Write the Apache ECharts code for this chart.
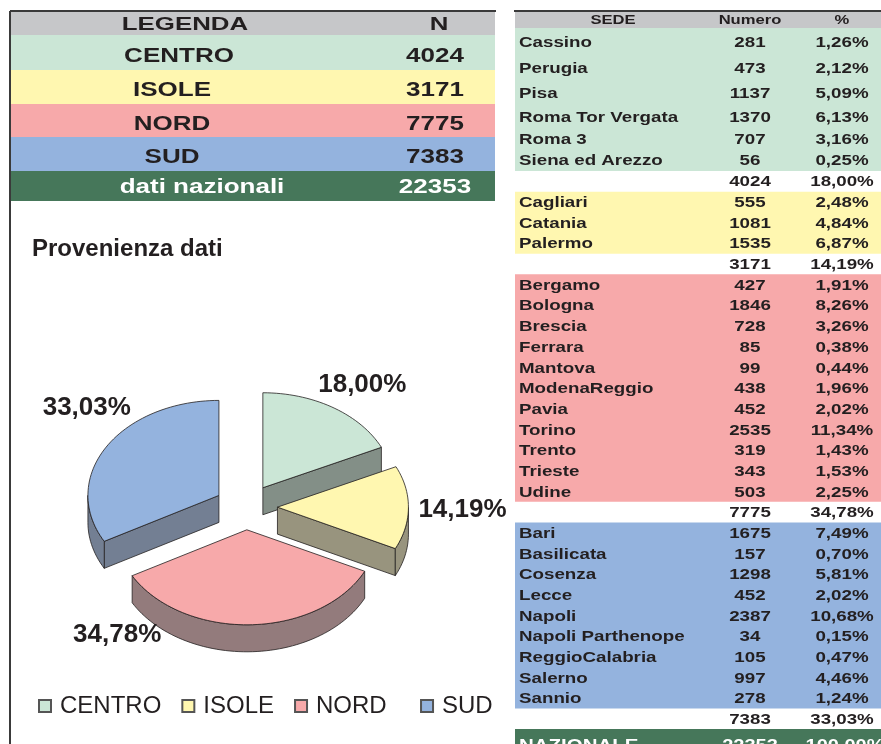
<!DOCTYPE html>
<html>
<head>
<meta charset="utf-8">
<title>Provenienza dati</title>
<script src="https://cdn.jsdelivr.net/npm/echarts@6/dist/echarts.min.js"></script>
<style>
  html, body { margin: 0; padding: 0; background: #fff; }
  #main { width: 881px; height: 744px; }
</style>
</head>
<body>
<div id="main"></div>
<script>
// dati
const regioni = ['CENTRO', 'ISOLE', 'NORD', 'SUD'];
const totaliRegione = [4024, 3171, 7775, 7383];
const totaleNazionale = 22353;

const sediCentro = ['Cassino', 'Perugia', 'Pisa', 'Roma Tor Vergata', 'Roma 3', 'Siena ed Arezzo'];
const numCentro = [281, 473, 1137, 1370, 707, 56];
const sediIsole = ['Cagliari', 'Catania', 'Palermo'];
const numIsole = [555, 1081, 1535];
const sediNord = ['Bergamo', 'Bologna', 'Brescia', 'Ferrara', 'Mantova', 'ModenaReggio', 'Pavia', 'Torino', 'Trento', 'Trieste', 'Udine'];
const numNord = [427, 1846, 728, 85, 99, 438, 452, 2535, 319, 343, 503];
const sediSud = ['Bari', 'Basilicata', 'Cosenza', 'Lecce', 'Napoli', 'Napoli Parthenope', 'ReggioCalabria', 'Salerno', 'Sannio'];
const numSud = [1675, 157, 1298, 452, 2387, 34, 105, 997, 278];

const sediPerRegione = [sediCentro, sediIsole, sediNord, sediSud];
const numPerRegione = [numCentro, numIsole, numNord, numSud];

// stile
const FONT = '"Liberation Sans", Arial, Helvetica, sans-serif';
const INK = '#231f20';
const coloriTop = ['#cbe6d6', '#fff7b0', '#f7a9aa', '#94b3de'];
const coloriLato = ['#838f87', '#98947e', '#937b7c', '#737f93'];
const GRIGIO = '#c6c7c9';
const VERDE = '#46775a';

function pct(v) {
  return (v / totaleNazionale * 100).toFixed(2).replace('.', ',') + '%';
}

function testo(x, y, s, size, opt) {
  opt = opt || {};
  const align = opt.align || 'center';
  return {
    type: 'text', x: x, y: y, scaleX: opt.sx || 1, silent: true,
    style: {
      text: s, fill: opt.color || INK,
      font: (opt.weight || 'bold') + ' ' + size + 'px ' + FONT,
      textAlign: align, textVerticalAlign: 'middle',
      align: align, verticalAlign: 'middle'
    }
  };
}
function rett(x, y, w, h, color) {
  return { type: 'rect', silent: true, shape: { x: x, y: y, width: w, height: h }, style: { fill: color } };
}
function linea(x1, y1, x2, y2) {
  return { type: 'line', silent: true, shape: { x1: x1, y1: y1, x2: x2, y2: y2 }, style: { stroke: '#3a3a3a', lineWidth: 2 } };
}

const grafica = [];

// cornice
grafica.push(linea(10, 11, 10, 744));
grafica.push(linea(10, 11, 496, 11));
grafica.push(linea(514, 11, 881, 11));

// tabella legenda (sinistra)
const L_X = 11, L_W = 484, L_COL1 = 182, L_COL2 = 435;
grafica.push(rett(L_X, 12, L_W, 23, GRIGIO));
grafica.push(testo(L_COL1 + 3, 24.5, 'LEGENDA', 19, { sx: 1.36 }));
grafica.push(testo(L_COL2 + 4, 24.5, 'N', 19, { sx: 1.36 }));
const L_RIGHE = [35, 70, 104, 137, 171];
regioni.forEach(function (r, i) {
  const y0 = L_RIGHE[i], h = L_RIGHE[i + 1] - y0;
  grafica.push(rett(L_X, y0, L_W, h, coloriTop[i]));
  grafica.push(testo(L_COL1 - 10 + (i === 0 ? 7 : 0), y0 + h / 2 + 3.5, r, 20, { sx: 1.3 }));
  grafica.push(testo(L_COL2, y0 + h / 2 + 3.5, String(totaliRegione[i]), 20, { sx: 1.3 }));
});
grafica.push(rett(L_X, 171, L_W, 30, VERDE));
grafica.push(testo(L_COL1 + 20, 187.5, 'dati nazionali', 20, { sx: 1.3, color: '#fff' }));
grafica.push(testo(L_COL2, 187.5, String(totaleNazionale), 20, { sx: 1.3, color: '#fff' }));

// titolo
grafica.push(testo(32, 249, 'Provenienza dati', 24, { align: 'left' }));

// tabella sedi (destra)
const R_X = 515, R_W = 366, R_NOME = 519, R_NUM = 750, R_PCT = 842, R_SX = 1.25;
grafica.push(rett(R_X, 12, R_W, 16, GRIGIO));
grafica.push(testo(613, 20.5, 'SEDE', 13.5, { sx: 1.23 }));
grafica.push(testo(R_NUM, 20.5, 'Numero', 13.5, { sx: 1.23 }));
grafica.push(testo(R_PCT, 20.5, '%', 13.5, { sx: 1.23 }));

const RIGA = 20.67;
const altezzePrimoBlocco = [27.5, 25.5, 24.5, 23, 21, 21.5];
let y = 28;
sediPerRegione.forEach(function (sedi, r) {
  const nums = numPerRegione[r];
  const altezze = sedi.map(function (_, k) { return r === 0 ? altezzePrimoBlocco[k] : RIGA; });
  const hBlocco = altezze.reduce(function (s, h) { return s + h; }, 0);
  grafica.push(rett(R_X, y, R_W, hBlocco, coloriTop[r]));
  sedi.forEach(function (nome, k) {
    const yc = y + altezze[k] / 2 + 1;
    grafica.push(testo(R_NOME, yc, nome, 15, { align: 'left', sx: R_SX }));
    grafica.push(testo(R_NUM, yc, String(nums[k]), 15, { sx: R_SX }));
    grafica.push(testo(R_PCT, yc, pct(nums[k]), 15, { sx: R_SX }));
    y += altezze[k];
  });
  const yc = y + RIGA / 2 + 1;
  grafica.push(testo(R_NUM, yc, String(totaliRegione[r]), 15, { sx: R_SX }));
  grafica.push(testo(R_PCT, yc, pct(totaliRegione[r]), 15, { sx: R_SX }));
  y += RIGA;
});
grafica.push(rett(R_X, y, R_W, 744 - y, VERDE));
grafica.push(testo(R_NOME, y + 18, 'NAZIONALE', 16, { align: 'left', sx: 1.28, color: '#fff' }));
grafica.push(testo(R_NUM, y + 18, String(totaleNazionale), 16, { sx: 1.25, color: '#fff' }));
grafica.push(testo(R_PCT + 3, y + 18, pct(totaleNazionale), 16, { sx: 1.25, color: '#fff' }));

// torta 3D esplosa
const PIE = { cx: 246, cy: 507, a: 131, b: 95, depth: 27, esplosione: 0.24 };
const spostaEtichetta = [[11, -2], [20, 2], [-134, -15], [10, -27]];
const somma = totaliRegione.reduce(function (s, v) { return s + v; }, 0);
const angoli = [];
let acc = 0;
totaliRegione.forEach(function (v) {
  const s = acc / somma * 360;
  acc += v;
  angoli.push([s, acc / somma * 360]);
});

const RAD = Math.PI / 180;
function punto(ox, oy, deg, dz) {
  return [ox + PIE.a * Math.sin(deg * RAD), oy - PIE.b * Math.cos(deg * RAD) + (dz || 0)];
}
function arco(ox, oy, d1, d2, dz) {
  const pts = [];
  const n = Math.max(2, Math.ceil((d2 - d1) / 2));
  for (let j = 0; j <= n; j++) pts.push(punto(ox, oy, d1 + (d2 - d1) * j / n, dz));
  return pts;
}

function disegnaFetta(i) {
  return function () {
    const s = angoli[i][0], e = angoli[i][1], m = (s + e) / 2;
    const ox = PIE.cx + PIE.esplosione * PIE.a * Math.sin(m * RAD);
    const oy = PIE.cy - PIE.esplosione * PIE.b * Math.cos(m * RAD);
    const D = PIE.depth;
    const bordo = { stroke: INK, lineWidth: 0.8 };
    const figli = [];
    const lato = function (pts) {
      figli.push({ type: 'polygon', shape: { points: pts }, style: Object.assign({ fill: coloriLato[i] }, bordo) });
    };
    // pareti radiali visibili
    if (Math.cos((s - 90) * RAD) < -0.01) {
      const p = punto(ox, oy, s);
      lato([[ox, oy], p, [p[0], p[1] + D], [ox, oy + D]]);
    }
    if (Math.cos((e + 90) * RAD) < -0.01) {
      const p = punto(ox, oy, e);
      lato([[ox, oy], p, [p[0], p[1] + D], [ox, oy + D]]);
    }
    // parete curva anteriore
    const c1 = Math.max(s, 90), c2 = Math.min(e, 270);
    if (c2 > c1) {
      lato(arco(ox, oy, c1, c2, 0).concat(arco(ox, oy, c1, c2, D).reverse()));
    }
    // faccia superiore
    figli.push({
      type: 'polygon', shape: { points: [[ox, oy]].concat(arco(ox, oy, s, e, 0)) },
      style: Object.assign({ fill: coloriTop[i] }, bordo)
    });
    // etichetta
    figli.push({
      type: 'text',
      x: PIE.cx + 1.5 * PIE.a * Math.sin(m * RAD) + spostaEtichetta[i][0],
      y: PIE.cy - 1.5 * PIE.b * Math.cos(m * RAD) + spostaEtichetta[i][1],
      style: {
        text: pct(totaliRegione[i]), fill: INK, font: 'bold 26px ' + FONT,
        textAlign: 'center', textVerticalAlign: 'middle', align: 'center', verticalAlign: 'middle'
      }
    });
    return { type: 'group', children: figli };
  };
}

const serie = regioni.map(function (r, i) {
  const m = (angoli[i][0] + angoli[i][1]) / 2;
  return {
    name: r,
    type: 'custom',
    coordinateSystem: 'none',
    z: 3 + Math.round(-Math.cos(m * RAD) * 2 + 2),
    silent: true,
    itemStyle: { color: coloriTop[i], borderColor: '#555', borderWidth: 1 },
    renderItem: disegnaFetta(i),
    data: [totaliRegione[i]]
  };
});

const chart = echarts.init(document.getElementById('main'), null, { renderer: 'canvas' });
chart.setOption({
  backgroundColor: '#fff',
  animation: false,
  legend: {
    data: regioni,
    left: 38,
    top: 694,
    padding: 0,
    icon: 'rect',
    itemWidth: 12,
    itemHeight: 12,
    itemGap: 20,
    selectedMode: false,
    formatter: function (name) { return name === 'NORD' ? name + '  ' : name; },
    textStyle: { fontFamily: FONT, fontSize: 24, color: INK, padding: [0, 0, 0, 4] }
  },
  graphic: grafica,
  series: serie
});
</script>
</body>
</html>
